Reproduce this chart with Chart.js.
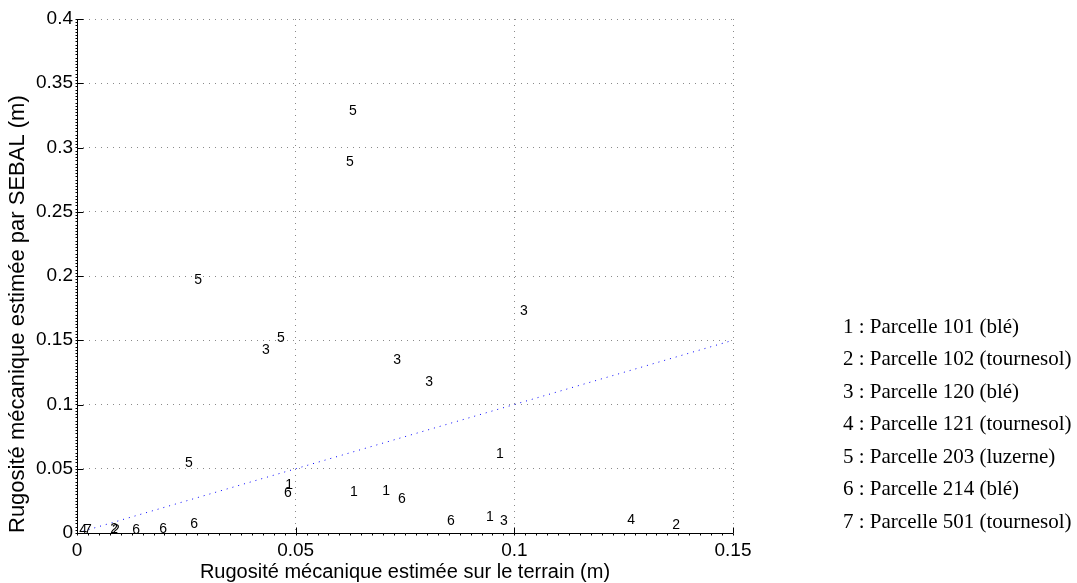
<!DOCTYPE html>
<html>
<head>
<meta charset="utf-8">
<script src="https://cdn.jsdelivr.net/npm/chart.js@4.4.1/dist/chart.umd.min.js"></script>
<style>
  html, body { margin: 0; padding: 0; background: #fff; }
  #wrap { position: relative; width: 1077px; height: 583px; }
</style>
</head>
<body>
<div id="wrap"><canvas id="rugoChart"></canvas></div>
<script>
// one entry per plotted label: parcel number, field estimate (x), SEBAL estimate (y)
const parcelOf = [5, 5, 5, 5, 5,
                  3, 3, 3, 3, 3,
                  1, 1, 1, 1, 1,
                  6, 6, 6, 6, 6, 6,
                  2, 2, 2,
                  4, 4,
                  7];
const xTerrain = [0.0631, 0.0624, 0.0277, 0.0466, 0.0256,
                  0.1022, 0.0432, 0.0732, 0.0805, 0.0976,
                  0.0967, 0.0485, 0.0633, 0.0707, 0.0944,
                  0.0482, 0.0743, 0.0855, 0.0268, 0.0197, 0.0135,
                  0.1370, 0.0085, 0.0089,
                  0.1267, 0.0014,
                  0.0025];
const ySebal = [0.3284, 0.2887, 0.1969, 0.1518, 0.0545,
                0.1728, 0.1424, 0.1346, 0.1175, 0.0093,
                0.0615, 0.0374, 0.0319, 0.0327, 0.0125,
                0.0311, 0.0265, 0.0093, 0.0070, 0.0031, 0.0023,
                0.0062, 0.0031, 0.0023,
                0.0101, 0.0023,
                0.0023];

// 1:1 reference line
const lineX = [0, 0.15];
const lineY = [0, 0.15];

const parcelNames = [
  '1 : Parcelle 101 (blé)',
  '2 : Parcelle 102 (tournesol)',
  '3 : Parcelle 120 (blé)',
  '4 : Parcelle 121 (tournesol)',
  '5 : Parcelle 203 (luzerne)',
  '6 : Parcelle 214 (blé)',
  '7 : Parcelle 501 (tournesol)'
];

const xTicks = [0, 0.05, 0.1, 0.15];
const yTicks = [0, 0.05, 0.1, 0.15, 0.2, 0.25, 0.3, 0.35, 0.4];

const sans = '"Liberation Sans", Arial, Helvetica, sans-serif';
const serif = '"Liberation Serif", "Times New Roman", serif';

let datasets = [];
for (let p = 1; p <= 7; p++) {
  let pts = [];
  parcelOf.forEach((id, i) => { if (id === p) pts.push({ x: xTerrain[i], y: ySebal[i] }); });
  datasets.push({ label: String(p), digit: String(p), data: pts, pointRadius: 0, pointHoverRadius: 0 });
}
datasets.push({
  type: 'line',
  label: '1:1',
  data: lineX.map((x, i) => ({ x: x, y: lineY[i] })),
  borderColor: '#0000ff',
  borderWidth: 1,
  borderDash: [1, 5],
  pointRadius: 0,
  fill: false
});

function fmt(v) { return String(+v.toFixed(3)); }

// text labels at each point, solid axes with inward ticks, and the parcel list at the right
const drawExtras = {
  id: 'drawExtras',
  afterDatasetsDraw(chart) {
    const ctx = chart.ctx;
    ctx.save();
    ctx.font = '14px ' + sans;
    ctx.fillStyle = '#000';
    ctx.textAlign = 'center';
    ctx.textBaseline = 'middle';
    chart.data.datasets.forEach((ds, i) => {
      if (!ds.digit) return;
      chart.getDatasetMeta(i).data.forEach(pt => ctx.fillText(ds.digit, pt.x, pt.y));
    });
    ctx.restore();
  },
  afterDraw(chart) {
    const ctx = chart.ctx;
    const a = chart.chartArea;
    const xs = chart.scales.x, ys = chart.scales.y;
    const L = Math.round(a.left) + 0.5, B = Math.round(a.bottom) + 0.5;
    ctx.save();
    ctx.setLineDash([]);
    ctx.strokeStyle = '#000';
    ctx.lineWidth = 1;
    ctx.beginPath();
    ctx.moveTo(L, a.top); ctx.lineTo(L, B); ctx.lineTo(a.right, B);
    // minor ticks
    for (let v = 0; v <= 0.15 + 1e-9; v += 0.0025) {
      let px = Math.round(xs.getPixelForValue(v)) + 0.5;
      ctx.moveTo(px, B); ctx.lineTo(px, B + 2);
    }
    for (let v = 0; v <= 0.4 + 1e-9; v += 0.0025) {
      let py = Math.round(ys.getPixelForValue(v)) + 0.5;
      ctx.moveTo(L - 2, py); ctx.lineTo(L, py);
    }
    // major ticks, inward
    xTicks.forEach(v => {
      let px = Math.round(xs.getPixelForValue(v)) + 0.5;
      ctx.moveTo(px, B); ctx.lineTo(px, B - 6);
    });
    yTicks.forEach(v => {
      let py = Math.round(ys.getPixelForValue(v)) + 0.5;
      ctx.moveTo(L, py); ctx.lineTo(L + 6, py);
    });
    ctx.stroke();

    ctx.font = '21px ' + serif;
    ctx.fillStyle = '#000';
    ctx.textAlign = 'left';
    ctx.textBaseline = 'middle';
    parcelNames.forEach((t, i) => ctx.fillText(t, 843, 327 + i * 32.5));
    ctx.restore();
  }
};

const ctx = document.getElementById('rugoChart').getContext('2d');
const rugoChart = new Chart(ctx, {
  type: 'scatter',
  data: { datasets: datasets },
  options: {
    responsive: true,
    maintainAspectRatio: false,
    animation: false,
    events: [],
    layout: { padding: { top: 19, right: 344, left: 0, bottom: 0 } },
    plugins: { legend: { display: false }, tooltip: { enabled: false } },
    scales: {
      x: {
        type: 'linear',
        min: 0,
        max: 0.15,
        afterFit: s => { s.height = 50; },
        afterBuildTicks: s => { s.ticks = xTicks.map(v => ({ value: v })); },
        ticks: { callback: fmt, color: '#000', font: { family: sans, size: 19 }, padding: 6, maxRotation: 0 },
        grid: { color: '#8a8a8a', drawTicks: false },
        border: { display: false, dash: [1, 5] },
        title: {
          display: true,
          text: 'Rugosité mécanique estimée sur le terrain (m)',
          color: '#000',
          font: { family: sans, size: 20, lineHeight: 1.1 },
          padding: { top: 0, bottom: 0 }
        }
      },
      y: {
        type: 'linear',
        min: 0,
        max: 0.4,
        afterFit: s => { s.width = 77; },
        afterBuildTicks: s => { s.ticks = yTicks.map(v => ({ value: v })); },
        ticks: { callback: fmt, color: '#000', font: { family: sans, size: 19 }, padding: 4 },
        grid: { color: '#8a8a8a', drawTicks: false },
        border: { display: false, dash: [1, 5] },
        title: {
          display: true,
          text: 'Rugosité mécanique estimée par SEBAL (m)',
          align: 'start',
          color: '#000',
          font: { family: sans, size: 22, lineHeight: 1 },
          padding: { top: 7, bottom: 0 }
        }
      }
    }
  },
  plugins: [drawExtras]
});
</script>
</body>
</html>
